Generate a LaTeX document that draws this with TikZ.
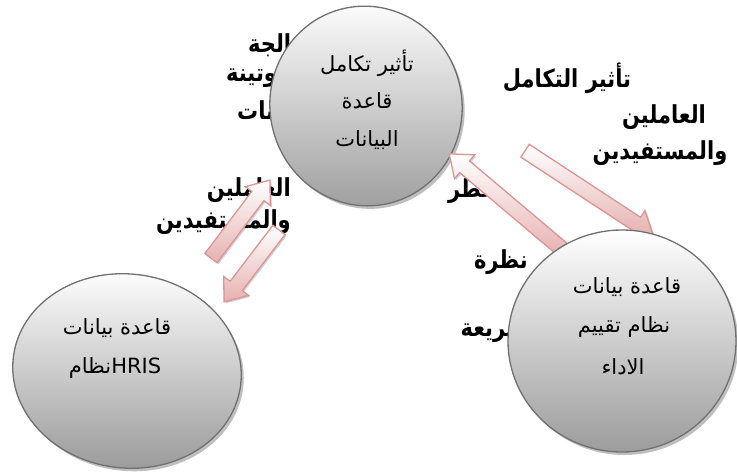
\documentclass[tikz,border=0pt]{standalone}
\usepackage{graphicx}
\usepackage{fontspec}
\newfontfamily\arabicfont[Script=Arabic]{DejaVu Sans}
\TeXXeTstate=1
\usetikzlibrary{shapes.geometric,shapes.arrows,shadows,calc}

\definecolor{arrowline}{HTML}{D99694}
\definecolor{arrowfill}{HTML}{E6B0B0}
\definecolor{ellline}{HTML}{707070}
\definecolor{ellfill}{HTML}{9C9C9C}

\newcommand\tallbold[1]{\scalebox{1}[1.18]{\beginR #1\endR}}

\tikzset{
  bubble/.style={ellipse, draw=ellline, line width=1.3pt, inner sep=0pt,
    top color=white, bottom color=ellfill,
    drop shadow={shadow xshift=2.5pt, shadow yshift=-3pt, fill=black, opacity=0.25}},
  bubbletext/.style={font=\arabicfont\fontsize{21}{25}\selectfont, text=black, inner sep=0pt},
  boldlabel/.style={font=\arabicfont\bfseries\fontsize{21}{25}\selectfont, text=black, inner sep=0pt},
  blockarrow/.style={single arrow, draw=arrowline, line width=1.3pt,
    inner sep=7pt, single arrow head extend=8pt, single arrow tip angle=76,
    top color=white, bottom color=arrowfill,
    drop shadow={shadow xshift=1.5pt, shadow yshift=-1.5pt, fill=black, opacity=0.18}},
}

\newcommand\blockarr[3][]{%
  \path let \p1=(#2), \p2=(#3),
    \n1={atan2(\y2-\y1,\x2-\x1)}, \n2={veclen(\x2-\x1,\y2-\y1)} in
    node[blockarrow, #1, minimum height=\n2, rotate=\n1] at ($(#2)!0.5!(#3)$) {};
}

\begin{document}
\begin{tikzpicture}[x=1pt, y=-1pt]
\useasboundingbox (0,0) rectangle (737,475);

% bold labels (partly hidden behind shapes)
\node[boldlabel, anchor=west] (l1) at (248,45) {\tallbold{معالجة}};
\node[boldlabel, anchor=west] (l2) at (226,78) {\tallbold{روتينة}};
\node[boldlabel, anchor=west] (l3) at (237,112) {\tallbold{بيانات}};
\node[boldlabel, anchor=east] (l4) at (291,190) {\tallbold{العاملين}};
\node[boldlabel, anchor=east] (l5) at (291,222) {\tallbold{والمستفيدين}};
\node[boldlabel, anchor=east] (l6) at (497,191) {\tallbold{خطر}};
\node[boldlabel] (l7) at (567,78) {\tallbold{تأثير التكامل}};
\node[boldlabel] (l8) at (664,117) {\tallbold{العاملين}};
\node[boldlabel] (l9) at (660,153) {\tallbold{والمستفيدين}};
\node[boldlabel, anchor=east] (l10) at (528,262) {\tallbold{نظرة}};
\node[boldlabel, anchor=east] (l11) at (527,333) {\tallbold{سريعة}};

% top ellipse
\node[bubble, minimum width=192pt, minimum height=200pt, rotate=12] (db) at (366,106) {};
\node[bubbletext] (dbt1) at (367,63) {\beginR تأثير تكامل\endR};
\node[bubbletext] (dbt2) at (367,101) {\beginR قاعدة\endR};
\node[bubbletext] (dbt3) at (367,140) {\beginR البيانات\endR};

% connector end points
\coordinate (aS) at (208,262);
\coordinate (aE) at (267,184);
\coordinate (bS) at (282,226);
\coordinate (bE) at (227,298);
\coordinate (cS) at (568,254);
\coordinate (cE) at (453,157);
\coordinate (dS) at (521,148);
\coordinate (dE) at (649,232);

\blockarr{aS}{aE}
\blockarr{bS}{bE}
\blockarr{cS}{cE}
\blockarr{dS}{dE}

% bottom ellipses
\node[bubble, minimum width=229pt, minimum height=194pt, rotate=-7] (hris) at (127,371) {};
\node[bubbletext] (ht1) at (117,328) {\beginR قاعدة بيانات\endR};
\node[bubbletext] (ht2) at (115,368) {\beginR\beginL HRIS\endL نظام\endR};

\node[bubble, minimum width=228pt, minimum height=222pt] (perf) at (622,341) {};
\node[bubbletext] (pt1) at (627,287) {\beginR قاعدة بيانات\endR};
\node[bubbletext] (pt2) at (624,327) {\beginR نظام تقييم\endR};
\node[bubbletext] (pt3) at (623,367) {\beginR الاداء\endR};
\end{tikzpicture}
\end{document}
